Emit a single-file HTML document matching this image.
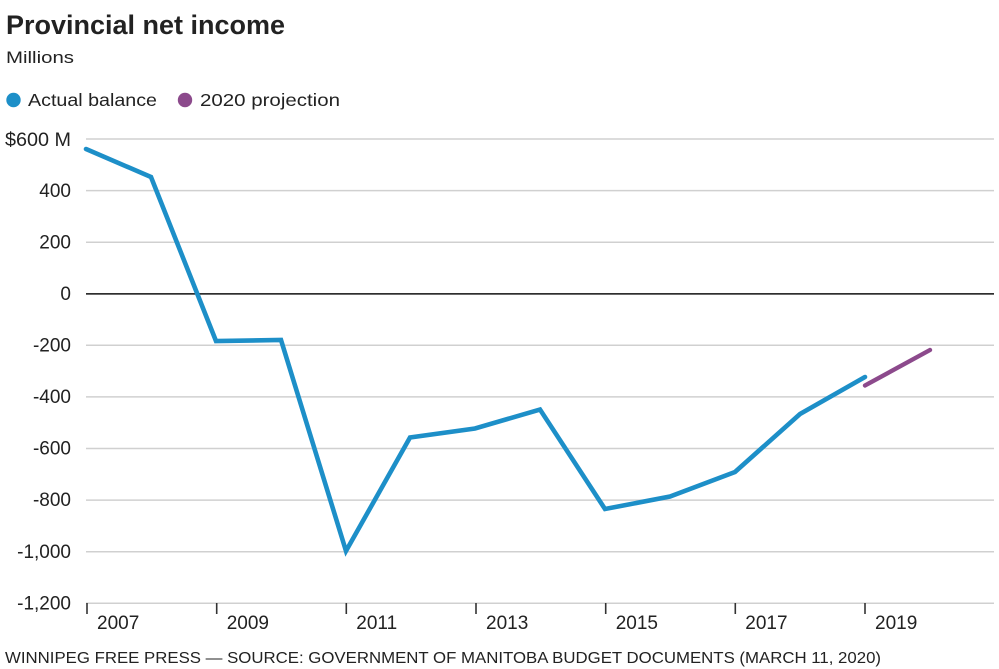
<!DOCTYPE html>
<html>
<head>
<meta charset="utf-8">
<style>
  html,body{margin:0;padding:0;background:#fff;}
  svg{display:block;}
  text{font-family:"Liberation Sans",sans-serif;fill:#222;}
</style>
</head>
<body>
<svg width="999" height="669" viewBox="0 0 999 669" xmlns="http://www.w3.org/2000/svg">
  <rect width="999" height="669" fill="#fff"/>
  <!-- Title -->
  <text x="6" y="34" font-size="27" font-weight="bold" textLength="279" lengthAdjust="spacingAndGlyphs" fill="#111">Provincial net income</text>
  <text x="6" y="63" font-size="17" textLength="68" lengthAdjust="spacingAndGlyphs" fill="#333">Millions</text>
  <!-- Legend -->
  <circle cx="13.5" cy="100" r="7.2" fill="#1d8fc8"/>
  <text x="28" y="106" font-size="17.5" textLength="129" lengthAdjust="spacingAndGlyphs" fill="#333">Actual balance</text>
  <circle cx="185" cy="100" r="7.2" fill="#8c4a8c"/>
  <text x="200" y="106" font-size="17.5" textLength="140" lengthAdjust="spacingAndGlyphs" fill="#333">2020 projection</text>

  <!-- Gridlines -->
  <g stroke="#d0d0d0" stroke-width="1.5">
    <line x1="86" y1="139" x2="994" y2="139"/>
    <line x1="86" y1="190.6" x2="994" y2="190.6"/>
    <line x1="86" y1="242.2" x2="994" y2="242.2"/>
    <line x1="86" y1="345.3" x2="994" y2="345.3"/>
    <line x1="86" y1="396.9" x2="994" y2="396.9"/>
    <line x1="86" y1="448.5" x2="994" y2="448.5"/>
    <line x1="86" y1="500.1" x2="994" y2="500.1"/>
    <line x1="86" y1="551.7" x2="994" y2="551.7"/>
    <line x1="86" y1="603.3" x2="994" y2="603.3"/>
  </g>
  <line x1="86" y1="293.9" x2="994" y2="293.9" stroke="#111" stroke-width="1.5"/>

  <!-- Y labels -->
  <g font-size="19" text-anchor="end" fill="#333">
    <text x="71" y="146" textLength="66" lengthAdjust="spacingAndGlyphs">$600 M</text>
    <text x="71" y="197">400</text>
    <text x="71" y="248.5">200</text>
    <text x="71" y="300">0</text>
    <text x="71" y="351.5">-200</text>
    <text x="71" y="403">-400</text>
    <text x="71" y="454.5">-600</text>
    <text x="71" y="506">-800</text>
    <text x="71" y="558">-1,000</text>
    <text x="71" y="609.5">-1,200</text>
  </g>

  <!-- X ticks -->
  <g stroke="#333" stroke-width="1.6">
    <line x1="87" y1="603" x2="87" y2="614"/>
    <line x1="216.7" y1="603" x2="216.7" y2="614"/>
    <line x1="346.3" y1="603" x2="346.3" y2="614"/>
    <line x1="476" y1="603" x2="476" y2="614"/>
    <line x1="605.7" y1="603" x2="605.7" y2="614"/>
    <line x1="735.3" y1="603" x2="735.3" y2="614"/>
    <line x1="865" y1="603" x2="865" y2="614"/>
  </g>
  <g font-size="19" fill="#333">
    <text x="97" y="629">2007</text>
    <text x="226.7" y="629">2009</text>
    <text x="356.3" y="629">2011</text>
    <text x="486" y="629">2013</text>
    <text x="615.7" y="629">2015</text>
    <text x="745.3" y="629">2017</text>
    <text x="875" y="629">2019</text>
  </g>

  <!-- Series -->
  <polyline fill="none" stroke="#1d8fc8" stroke-width="4.6" stroke-linejoin="miter" stroke-linecap="round"
    points="86,149 151,177 216,341 281,340 346,551 410,437.5 475,428.5 540,409.5 605,509 670,496.5 735,472 800,414 865,377"/>
  <line x1="865" y1="385.5" x2="930" y2="350" stroke="#8c4a8c" stroke-width="4.4" stroke-linecap="round"/>

  <!-- Footer -->
  <text x="5" y="663" font-size="16" textLength="876" lengthAdjust="spacingAndGlyphs" fill="#333">WINNIPEG FREE PRESS — SOURCE: GOVERNMENT OF MANITOBA BUDGET DOCUMENTS (MARCH 11, 2020)</text>
</svg>
</body>
</html>
